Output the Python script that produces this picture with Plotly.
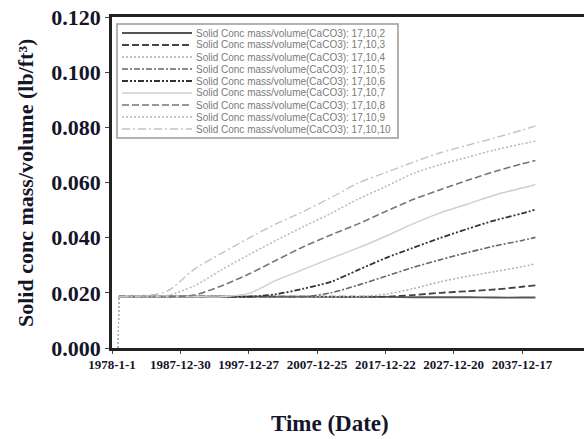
import plotly.graph_objects as go

# Sample dates of the simulation output
dates = ["1978-12-01", "1979-01-01", "1982-01-01", "1986-01-01", "1990-01-01",
         "1994-01-01", "1998-01-01", "2002-01-01", "2006-01-01", "2010-01-01",
         "2014-01-01", "2018-01-01", "2022-01-01", "2026-01-01", "2030-01-01",
         "2034-01-01", "2038-01-01", "2039-12-01"]

# Solid CaCO3 concentration (lb/ft3) at cells 17,10,k
conc_k2 = [0.0, 0.0186, 0.0186, 0.0186, 0.0186, 0.0186, 0.0186, 0.0186, 0.0186, 0.0185,
           0.0185, 0.0185, 0.0184, 0.0184, 0.0184, 0.0183, 0.0183, 0.0183]
conc_k3 = [0.0, 0.0186, 0.0186, 0.0186, 0.0186, 0.0186, 0.0186, 0.0186, 0.0186, 0.0186,
           0.0186, 0.0186, 0.0192, 0.0200, 0.0206, 0.0212, 0.0222, 0.0227]
conc_k4 = [0.0, 0.0186, 0.0186, 0.0186, 0.0186, 0.0186, 0.0186, 0.0186, 0.0186, 0.0186,
           0.0186, 0.0195, 0.0215, 0.0240, 0.0260, 0.0277, 0.0295, 0.0305]
conc_k5 = [0.0, 0.0186, 0.0186, 0.0186, 0.0186, 0.0186, 0.0186, 0.0186, 0.0186, 0.0200,
           0.0228, 0.0260, 0.0292, 0.0320, 0.0346, 0.0370, 0.0390, 0.0401]
conc_k6 = [0.0, 0.0186, 0.0186, 0.0186, 0.0186, 0.0186, 0.0186, 0.0195, 0.0215, 0.0240,
           0.0283, 0.0326, 0.0363, 0.0399, 0.0432, 0.0463, 0.0488, 0.0502]
conc_k7 = [0.0, 0.0186, 0.0186, 0.0186, 0.0186, 0.0186, 0.0198, 0.0245, 0.0285, 0.0325,
           0.0363, 0.0405, 0.0450, 0.0490, 0.0522, 0.0555, 0.0580, 0.0593]
conc_k8 = [0.0, 0.0186, 0.0186, 0.0186, 0.0192, 0.0225, 0.0268, 0.0318, 0.0367, 0.0410,
           0.0450, 0.0495, 0.0538, 0.0574, 0.0608, 0.0640, 0.0668, 0.0680]
conc_k9 = [0.0, 0.0186, 0.0186, 0.0190, 0.0225, 0.0283, 0.0338, 0.0390, 0.0440, 0.0488,
           0.0540, 0.0585, 0.0632, 0.0665, 0.0692, 0.0718, 0.0740, 0.0750]
conc_k10 = [0.0, 0.0186, 0.0188, 0.0205, 0.0285, 0.0343, 0.0398, 0.0450, 0.0495, 0.0545,
            0.0598, 0.0636, 0.0673, 0.0708, 0.0735, 0.0762, 0.0790, 0.0805]

series = [conc_k2, conc_k3, conc_k4, conc_k5, conc_k6, conc_k7, conc_k8, conc_k9, conc_k10]
names = ["Solid Conc mass/volume(CaCO3): 17,10,%d" % k for k in range(2, 11)]
colors = ["#555555", "#444444", "#b0b0b0", "#666666", "#333333",
          "#cfcfcf", "#777777", "#b8b8b8", "#c4c4c4"]
dashes = ["solid", "7px,3px", "2px,2px", "6px,2px,2px,2px", "6px,2px,2px,2px,2px,2px",
          "solid", "7px,3px", "2px,2px", "8px,3px,2px,3px"]
widths = [1.8, 1.8, 1.5, 1.6, 1.8, 1.5, 1.6, 1.5, 1.4]

tick_dates = ["1978-01-01", "1987-12-30", "1997-12-27", "2007-12-25",
              "2017-12-22", "2027-12-20", "2037-12-17"]
tick_text = ["1978-1-1", "1987-12-30", "1997-12-27", "2007-12-25",
             "2017-12-22", "2027-12-20", "2037-12-17"]
y_ticks = [0.0, 0.02, 0.04, 0.06, 0.08, 0.10, 0.12]

W, H = 584, 439
L, R, T, B = 112, 0, 17, 91
pw, ph = W - L - R, H - T - B


def px(x):
    return (x - L) / pw


def py(y):
    return (H - B - y) / ph


fig = go.Figure()
for vals, name, c, d, w in zip(series, names, colors, dashes, widths):
    line = dict(color=c, dash=d, width=w)
    # initial step from zero to the starting concentration
    fig.add_trace(go.Scatter(x=dates[:2], y=vals[:2], mode="lines",
                             line=dict(line, dash="2px,2px", width=1,
                                       color="#b0b0b0"),
                             showlegend=False, hoverinfo="skip"))
    # smooth evolution afterwards
    fig.add_trace(go.Scatter(x=dates[1:], y=vals[1:], name=name, mode="lines",
                             line=dict(line, shape="spline", smoothing=0.8),
                             showlegend=False))

serif = "Liberation Serif, Times New Roman, serif"
ink = "#15152a"

# hand-built compact legend box
shapes = [dict(type="rect", xref="paper", yref="paper",
               x0=px(117), x1=px(398), y0=py(138), y1=py(24),
               line=dict(color="#9a9a9a", width=1.5), fillcolor="white", layer="above")]
annotations = []
for i, (name, c, d, w) in enumerate(zip(names, colors, dashes, widths)):
    yc = 33 + 12 * i
    shapes.append(dict(type="line", xref="paper", yref="paper",
                       x0=px(122), x1=px(192), y0=py(yc), y1=py(yc),
                       line=dict(color=c, dash=d, width=w), layer="above"))
    annotations.append(dict(text=name, xref="paper", yref="paper",
                            x=px(194), y=py(yc), xanchor="left", yanchor="middle",
                            showarrow=False,
                            font=dict(family="Liberation Sans, Arial", size=10,
                                      color="#7a7a7a")))

annotations.append(dict(text="Time (Date)", xref="paper", yref="paper",
                        x=px(330), y=py(423), xanchor="center", yanchor="middle",
                        showarrow=False,
                        font=dict(family=serif, size=23, color=ink, weight="bold")))
annotations.append(dict(text="Solid conc mass/volume (lb/ft³)", xref="paper",
                        yref="paper", x=px(25), y=py(183), xanchor="center",
                        yanchor="middle", textangle=-90, showarrow=False,
                        font=dict(family=serif, size=22, color=ink, weight="bold")))

fig.update_layout(
    width=W, height=H,
    margin=dict(l=L, r=R, t=T, b=B),
    paper_bgcolor="white", plot_bgcolor="white",
    shapes=shapes, annotations=annotations,
    xaxis=dict(type="date", range=["1978-01-01", "2047-01-08"],
               tickvals=tick_dates, ticktext=tick_text,
               showgrid=False, zeroline=False,
               showline=True, linecolor="#222222", linewidth=2.5, mirror=True,
               ticks="outside", ticklen=3, tickcolor="#444444",
               tickfont=dict(family=serif, size=13, color=ink, weight="bold")),
    yaxis=dict(range=[0, 0.12], tickvals=y_ticks, tickformat=".3f",
               showgrid=False, zeroline=False,
               showline=True, linecolor="#222222", linewidth=2.5,
               ticks="outside", ticklen=4, tickcolor="#444444",
               tickfont=dict(family=serif, size=22, color=ink, weight="bold")),
)

fig.write_html("out.html")
